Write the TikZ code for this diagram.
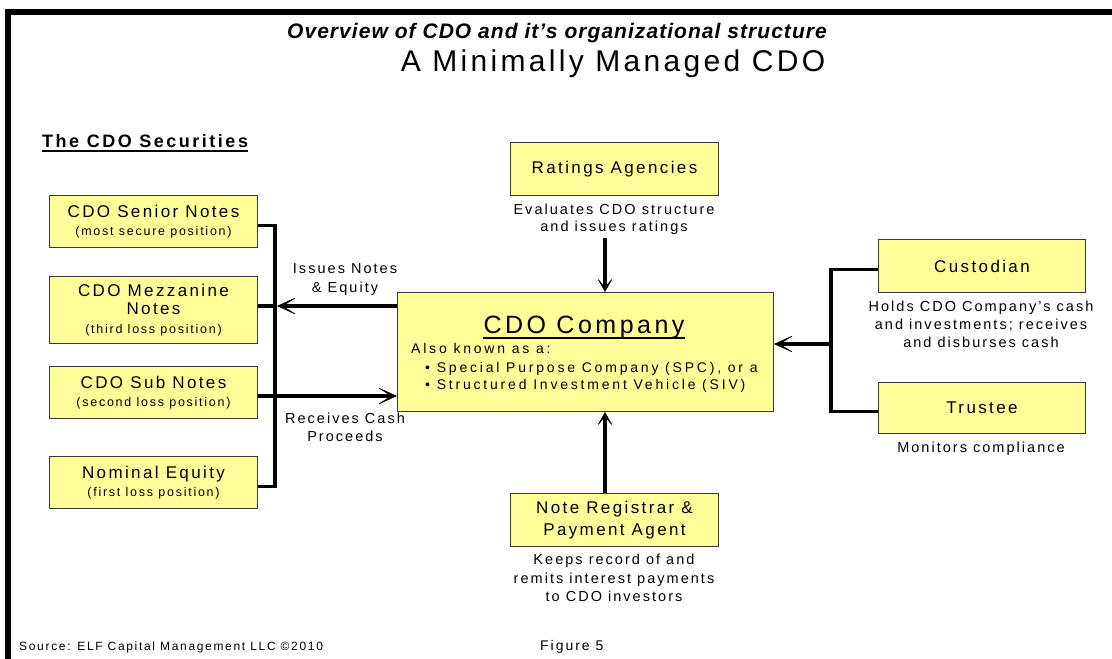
\documentclass[tikz,border=0pt]{standalone}
\usepackage{fontspec}
\setmainfont{Liberation Sans}
\newfontfamily\widefont[LetterSpace=14]{Liberation Sans}
\newfontfamily\akafont[LetterSpace=20]{Liberation Sans}
\newfontfamily\headfont[LetterSpace=5]{Liberation Sans}
\newfontfamily\bigfont[LetterSpace=11]{Liberation Sans}
\usetikzlibrary{arrows.meta}
\definecolor{noteyellow}{HTML}{FFFF99}
\definecolor{edgegray}{HTML}{3A3A3A}

\tikzset{
  box/.style={draw=edgegray, line width=1pt, fill=noteyellow, inner sep=0pt,
    align=center, anchor=north west, font=\widefont\fontsize{17}{18.5}\selectfont},
  txt/.style={inner sep=0pt, anchor=base, font=\widefont\fontsize{14.5}{17}\selectfont},
  bus/.style={line width=3.5pt},
  flowbig/.style={line width=4pt,
    -{Stealth[length=22pt,width=20pt,inset=16pt,line width=0.6pt]}},
  flowsmall/.style={line width=3.5pt,
    -{Stealth[length=15pt,width=17pt,inset=10pt,line width=0.6pt]}},
}
\newcommand\minorline[1]{{\fontsize{12.5}{14}\selectfont #1}}

\begin{document}
\begin{tikzpicture}[x=1pt,y=-1pt]
\useasboundingbox (0,0) rectangle (1112,659);

% page frame (top and left rules)
\fill[black] (5,9) rectangle (1112,15);
\fill[black] (5,9) rectangle (11,659);

% titles
\node[txt, font=\headfont\bfseries\itshape\fontsize{21}{25}\selectfont] (title) at (557,38)
  {Overview of CDO and it’s organizational structure};
\node[txt, font=\bigfont\fontsize{30}{34}\selectfont] (subtitle) at (613,71)
  {A Minimally Managed CDO};

% securities column
\node[txt, anchor=base west, font=\widefont\bfseries\fontsize{18}{21}\selectfont] (sechead) at (42,147)
  {The CDO Securities};
\draw[line width=1.5pt] ([yshift=-4pt]sechead.base west) -- ([yshift=-4pt]sechead.base east);

\node[box, minimum width=208pt, minimum height=52pt] (senior) at (49,195)
  {CDO Senior Notes\\\minorline{(most secure position)}};
\node[box, minimum width=208pt, minimum height=67pt] (mezz) at (49,276)
  {CDO Mezzanine\\Notes\\\minorline{(third loss position)}};
\node[box, minimum width=208pt, minimum height=52pt] (sub) at (49,366)
  {CDO Sub Notes\\\minorline{(second loss position)}};
\node[box, minimum width=208pt, minimum height=52pt] (equity) at (49,456)
  {Nominal Equity\\\minorline{(first loss position)}};

% central company
\node[box, minimum width=376pt, minimum height=119pt] (company) at (397,292) {};
\node[txt, font=\widefont\fontsize{25}{29}\selectfont] (coname) at (584,333) {CDO Company};
\draw[line width=2.5pt] ([yshift=-5pt]coname.base west) -- ([yshift=-5pt]coname.base east);
\node[txt, anchor=base west, font=\akafont\fontsize{14}{16}\selectfont] (aka) at (411,353) {Also known as a:};
\node[txt, anchor=base west, font=\akafont\fontsize{14}{16}\selectfont] (spc) at (425,372)
  {\textbullet\ Special Purpose Company (SPC), or a};
\node[txt, anchor=base west, font=\akafont\fontsize{14}{16}\selectfont] (siv) at (425,389)
  {\textbullet\ Structured Investment Vehicle (SIV)};

% ratings agencies
\node[box, minimum width=208pt, minimum height=53pt] (ratings) at (510,142) {Ratings Agencies};
\node[txt] (evala) at (614,214) {Evaluates CDO structure};
\node[txt] (evalb) at (614,231) {and issues ratings};

% custodian and trustee
\node[box, minimum width=207pt, minimum height=53pt] (custodian) at (878,239) {Custodian};
\node[txt] (holda) at (981,311) {Holds CDO Company’s cash};
\node[txt] (holdb) at (981,329) {and investments; receives};
\node[txt] (holdc) at (981,347) {and disburses cash};
\node[box, minimum width=207pt, minimum height=51pt] (trustee) at (878,382) {Trustee};
\node[txt] (monitor) at (981,452) {Monitors compliance};

% note registrar
\node[box, minimum width=208pt, minimum height=53pt, font=\widefont\fontsize{17}{22}\selectfont] (registrar) at (510,493)
  {Note Registrar \&\\Payment Agent};
\node[txt] (keepa) at (614,564) {Keeps record of and};
\node[txt] (keepb) at (614,583) {remits interest payments};
\node[txt] (keepc) at (614,601) {to CDO investors};

% flow labels
\node[txt] (issa) at (345,273) {Issues Notes};
\node[txt] (issb) at (345,292) {\& Equity};
\node[txt] (reca) at (345,423) {Receives Cash};
\node[txt] (recb) at (345,441) {Proceeds};

% left bus joining the securities
\coordinate (lbus) at (275,306);
\coordinate (rcv) at (275,396);
\draw[bus] ([yshift=-4pt]senior.east) -| (lbus) |- ([yshift=-4pt]equity.east);
\draw[bus] (lbus -| mezz.east) -- (lbus);
\draw[bus] (rcv -| sub.east) -- (rcv);
\draw[flowbig] (company.west |- lbus) -- ([xshift=2pt]lbus);
\draw[flowbig] (rcv) -- (company.west |- rcv);

% right bus from custodian and trustee
\coordinate (rbus) at (831,344);
\draw[bus] ([yshift=-3.5pt]custodian.west) -| (rbus) |- ([yshift=-3.5pt]trustee.west);
\draw[flowbig, line width=4.5pt] (rbus) -- (company.east |- rbus);

% vertical flows
\coordinate (rtop) at (605,238);
\draw[flowsmall] (rtop) -- (company.north -| rtop);
\draw[flowsmall] (registrar.north -| rtop) -- (company.south -| rtop);

% footer
\node[txt, anchor=base west, font=\widefont\fontsize{12}{14}\selectfont] (source) at (19,650)
  {Source: ELF Capital Management LLC ©2010};
\node[txt, anchor=base west, font=\widefont\fontsize{14}{17}\selectfont] (figno) at (540,650) {Figure 5};
\end{tikzpicture}
\end{document}
